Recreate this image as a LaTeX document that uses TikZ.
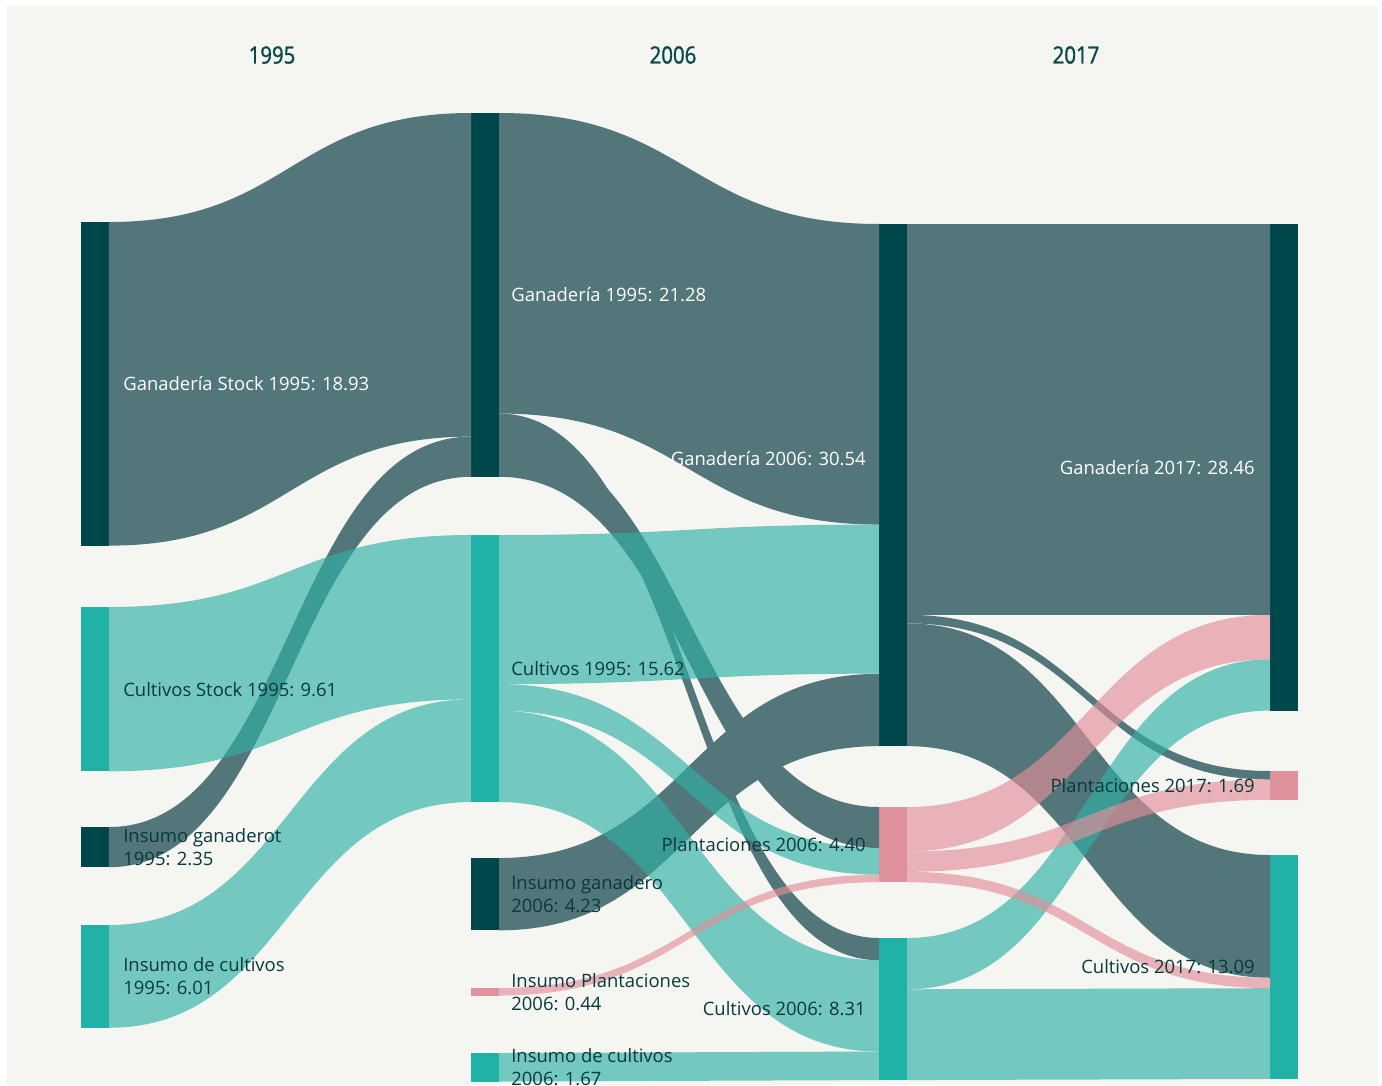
\documentclass[tikz,border=0pt]{standalone}
\usepackage{fontspec}
\setmainfont{Open Sans}
\newfontfamily\yearfont[FakeStretch=0.86,FakeBold=1.4]{Open Sans}
\usetikzlibrary{calc,positioning}

\definecolor{bgpanel}{HTML}{F5F5F2}
\definecolor{ganbar}{HTML}{00474B}
\definecolor{ganflow}{HTML}{52767A}
\definecolor{culbar}{HTML}{20B2A6}
\definecolor{culflow}{HTML}{2EB1A5}
\definecolor{plabar}{HTML}{E0929C}
\definecolor{plaflow}{HTML}{E28F9A}
\definecolor{inktext}{HTML}{08393B}
\definecolor{yeartext}{HTML}{0B4A4A}

\newcommand{\vu}{0.342cm}
\newcommand{\sflow}[6]{%
  \fill[#1] let \p1=(#2.north east), \p2=(#4.north west),
    \n1={#3*\vu}, \n2={#5*\vu}, \n3={#6*\vu}, \n4={0.5*\x1+0.5*\x2} in
    (\x1,\y1-\n1) .. controls (\n4,\y1-\n1) and (\n4,\y2-\n2) .. (\x2,\y2-\n2)
    -- (\x2,\y2-\n2-\n3) .. controls (\n4,\y2-\n2-\n3) and (\n4,\y1-\n1-\n3) .. (\x1,\y1-\n1-\n3) -- cycle;}

\tikzset{
  stockbar/.style={rectangle, inner sep=0pt, outer sep=0pt, minimum width=0.56cm, anchor=north west},
  ganbox/.style={stockbar, fill=ganbar, minimum height={#1*\vu}},
  culbox/.style={stockbar, fill=culbar, minimum height={#1*\vu}},
  plabox/.style={stockbar, fill=plabar, minimum height={#1*\vu}},
  ganlink/.style={fill=ganflow},
  cullink/.style={fill=culflow, fill opacity=0.65},
  plalink/.style={fill=plaflow, fill opacity=0.65},
  lbl/.style={font=\fontsize{10.5}{13}\selectfont, text=inktext, align=left, inner sep=0pt},
  lblw/.style={lbl, text=white},
  yearlbl/.style={font=\yearfont\fontsize{13.5}{15}\selectfont, text=yeartext}
}

\begin{document}
\begin{tikzpicture}[x=0.02cm, y=-0.02cm]
  \useasboundingbox (0,0) rectangle (1382,1085);
  \fill[white] (0,0) rectangle (1382,1085);
  \fill[bgpanel] (7,6) rectangle (1378,1085);

  \node[yearlbl] (y95) at (272,55) {1995};
  \node[yearlbl] (y06) at (673,55) {2006};
  \node[yearlbl] (y17) at (1076,55) {2017};

  \node[ganbox=18.93] (gs95) at (81,222) {};
  \node[culbox=9.61] (cs95) at (81,607) {};
  \node[ganbox=2.35] (ig95) at (81,827) {};
  \node[culbox=6.01] (ic95) at (81,925) {};

  \node[ganbox=21.28] (g95) at (471,113) {};
  \node[culbox=15.62] (c95) at (471,535) {};
  \node[ganbox=4.23] (ig06) at (471,858) {};
  \node[plabox=0.44] (ip06) at (471,988) {};
  \node[culbox=1.67] (icu06) at (471,1053) {};

  \node[ganbox=30.54] (g06) at (879,224) {};
  \node[plabox=4.40] (p06) at (879,807) {};
  \node[culbox=8.31] (c06) at (879,938) {};

  \node[ganbox=28.46] (g17) at (1270,224) {};
  \node[plabox=1.69] (p17) at (1270,771) {};
  \node[culbox=13.09] (c17) at (1270,855) {};

  \sflow{ganlink}{gs95}{0}{g95}{0}{18.93}
  \sflow{ganlink}{ig95}{0}{g95}{18.93}{2.35}
  \sflow{ganlink}{g95}{0}{g06}{0}{17.58}
  \sflow{ganlink}{g95}{17.58}{c06}{0}{1.30}
  \sflow{ganlink}{g95}{18.88}{p06}{0}{2.40}
  \sflow{ganlink}{ig06}{0}{g06}{26.31}{4.23}
  \sflow{ganlink}{g06}{0}{g17}{0}{22.86}
  \sflow{ganlink}{g06}{22.86}{p17}{0}{0.50}
  \sflow{ganlink}{g06}{23.36}{c17}{0}{7.18}

  \sflow{cullink}{cs95}{0}{c95}{0}{9.61}
  \sflow{cullink}{ic95}{0}{c95}{9.61}{6.01}
  \sflow{cullink}{c95}{0}{g06}{17.58}{8.72}
  \sflow{cullink}{c95}{8.72}{p06}{2.40}{1.56}
  \sflow{cullink}{c95}{10.28}{c06}{1.30}{5.34}
  \sflow{cullink}{icu06}{0}{c06}{6.64}{1.67}
  \sflow{cullink}{c06}{0}{g17}{25.46}{3.00}
  \sflow{cullink}{c06}{3.00}{c17}{7.79}{5.31}

  \sflow{plalink}{ip06}{0}{p06}{3.96}{0.44}
  \sflow{plalink}{p06}{0}{g17}{22.86}{2.60}
  \sflow{plalink}{p06}{2.60}{p17}{0.50}{1.19}
  \sflow{plalink}{p06}{3.79}{c17}{7.18}{0.61}

  \node[lblw, right=0.28cm of gs95] (lgs95) {Ganadería Stock 1995: 18.93};
  \node[lbl, right=0.28cm of cs95] (lcs95) {Cultivos Stock 1995: 9.61};
  \node[lbl, right=0.28cm of ig95] (lig95) {Insumo ganaderot\\1995: 2.35};
  \node[lbl, right=0.28cm of ic95] (lic95) {Insumo de cultivos\\1995: 6.01};
  \node[lblw, right=0.24cm of g95] (lg95) {Ganadería 1995: 21.28};
  \node[lbl, right=0.24cm of c95] (lc95) {Cultivos 1995: 15.62};
  \node[lbl, right=0.24cm of ig06] (lig06) {Insumo ganadero\\2006: 4.23};
  \node[lbl, right=0.24cm of ip06] (lip06) {Insumo Plantaciones\\2006: 0.44};
  \node[lbl, right=0.24cm of icu06] (licu06) {Insumo de cultivos\\2006: 1.67};
  \node[lblw, left=0.26cm of g06, yshift=0.54cm] (lg06) {Ganadería 2006: 30.54};
  \node[lbl, left=0.26cm of p06] (lp06) {Plantaciones 2006: 4.40};
  \node[lbl, left=0.26cm of c06] (lc06) {Cultivos 2006: 8.31};
  \node[lblw, left=0.3cm of g17] (lg17) {Ganadería 2017: 28.46};
  \node[lbl, left=0.3cm of p17] (lp17) {Plantaciones 2017: 1.69};
  \node[lbl, left=0.3cm of c17] (lc17) {Cultivos 2017: 13.09};
\end{tikzpicture}
\end{document}
